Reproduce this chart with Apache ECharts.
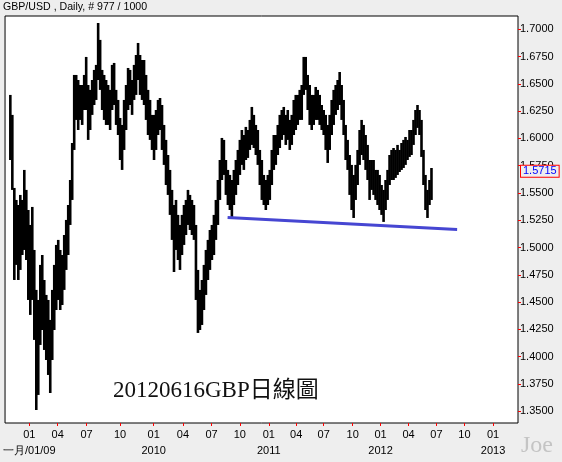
<!DOCTYPE html>
<html><head><meta charset="utf-8">
<script src="https://cdn.jsdelivr.net/npm/echarts@6/dist/echarts.min.js"></script>
<style>html,body{margin:0;padding:0;background:#eeeeee;}#c{width:562px;height:462px;}</style>
</head><body><div id="c"></div>
<script>
// One sample bar per slot (slot = about 4.5 daily bars of the reference), from Nov 2008 to mid-June 2012
const firstBar = 2;
const highs = [
1.6398,1.6215,1.5546,1.5436,1.5390,1.5482,1.5436,1.5711,1.5528,1.5344,
1.5207,1.5372,1.4978,1.4612,1.4520,1.4841,1.4932,1.4703,1.4566,1.4520,
1.4337,1.4612,1.4841,1.5024,1.5070,1.4978,1.4932,1.5115,1.5253,1.5390,
1.5619,1.5958,1.6581,1.6581,1.6535,1.6489,1.6489,1.6581,1.6746,1.6489,
1.6444,1.6535,1.6627,1.6673,1.7057,1.6902,1.6627,1.6581,1.6535,1.6489,
1.6444,1.6673,1.6691,1.6444,1.6352,1.6187,1.6123,1.6352,1.6489,1.6645,
1.6627,1.6535,1.6673,1.6764,1.6874,1.6764,1.6718,1.6718,1.6581,1.6444,
1.6352,1.6215,1.6215,1.6260,1.6352,1.6370,1.6306,1.6123,1.5986,1.5848,
1.5711,1.5528,1.5390,1.5436,1.5299,1.5207,1.5299,1.5390,1.5436,1.5528,
1.5482,1.5436,1.5390,1.5207,1.4795,1.4612,1.4703,1.4841,1.4978,1.5070,
1.5161,1.5207,1.5299,1.5436,1.5619,1.5802,1.6004,1.5986,1.5802,1.5711,
1.5665,1.5619,1.5711,1.5802,1.5894,1.5986,1.6077,1.6031,1.6105,1.6077,
1.6169,1.6288,1.6215,1.6123,1.6077,1.5894,1.5802,1.5665,1.5619,1.5665,
1.5711,1.5894,1.6031,1.6031,1.6123,1.6215,1.6260,1.6288,1.6215,1.6260,
1.6169,1.6215,1.6352,1.6398,1.6398,1.6444,1.6489,1.6746,1.6746,1.6581,
1.6489,1.6398,1.6398,1.6471,1.6444,1.6398,1.6306,1.6260,1.6215,1.6123,
1.6215,1.6352,1.6444,1.6489,1.6535,1.6608,1.6489,1.6352,1.6123,1.5986,
1.5848,1.5757,1.5665,1.5757,1.5894,1.6077,1.6169,1.6123,1.6031,1.5940,
1.5802,1.5802,1.5802,1.5711,1.5711,1.5665,1.5573,1.5528,1.5619,1.5711,
1.5848,1.5894,1.5912,1.5894,1.5940,1.5894,1.5958,1.5986,1.6013,1.5986,
1.6077,1.6077,1.6169,1.6260,1.6306,1.6260,1.6169,1.5894,1.5665,1.5528,
1.5619,1.5729];
const lows = [
1.5802,1.5528,1.4703,1.4841,1.4703,1.4795,1.4932,1.4978,1.4886,1.4520,
1.4383,1.4520,1.4154,1.3512,1.3650,1.4108,1.4245,1.4062,1.3970,1.3833,
1.3668,1.3970,1.4245,1.4428,1.4520,1.4428,1.4474,1.4612,1.4795,1.4932,
1.5207,1.5436,1.5894,1.6169,1.6077,1.6169,1.6123,1.6260,1.6260,1.5986,
1.6077,1.6215,1.6306,1.6352,1.6535,1.6444,1.6260,1.6169,1.6123,1.6123,
1.6077,1.6260,1.6306,1.6123,1.6031,1.5802,1.5711,1.5894,1.6077,1.6260,
1.6306,1.6215,1.6352,1.6398,1.6535,1.6398,1.6352,1.6306,1.6169,1.6031,
1.5986,1.5894,1.5802,1.5894,1.6031,1.6077,1.5894,1.5757,1.5573,1.5482,
1.5299,1.5070,1.4776,1.4978,1.4886,1.4795,1.4932,1.5024,1.5115,1.5207,
1.5161,1.5115,1.5070,1.4520,1.4218,1.4245,1.4291,1.4428,1.4566,1.4703,
1.4795,1.4886,1.4932,1.5070,1.5207,1.5436,1.5619,1.5665,1.5482,1.5390,
1.5344,1.5280,1.5390,1.5482,1.5573,1.5665,1.5757,1.5711,1.5802,1.5821,
1.5894,1.5940,1.5912,1.5848,1.5757,1.5573,1.5436,1.5390,1.5344,1.5390,
1.5436,1.5573,1.5711,1.5757,1.5848,1.5912,1.5986,1.6031,1.5940,1.5986,
1.5894,1.5940,1.6031,1.6077,1.6123,1.6169,1.6169,1.6398,1.6444,1.6260,
1.6123,1.6077,1.6123,1.6169,1.6169,1.6123,1.6077,1.6031,1.5894,1.5775,
1.5894,1.6031,1.6123,1.6215,1.6260,1.6306,1.6169,1.6031,1.5802,1.5711,
1.5482,1.5344,1.5271,1.5436,1.5573,1.5757,1.5848,1.5802,1.5711,1.5619,
1.5436,1.5528,1.5482,1.5436,1.5390,1.5344,1.5299,1.5235,1.5344,1.5436,
1.5573,1.5619,1.5619,1.5638,1.5665,1.5692,1.5711,1.5729,1.5757,1.5802,
1.5830,1.5848,1.5940,1.6031,1.6096,1.6031,1.5830,1.5573,1.5344,1.5271,
1.5390,1.5436];
const lastClose = 1.5715;
const trendLine = [[111, 1.5275], [226, 1.5165]];
const yTicks = [1.35,1.375,1.4,1.425,1.45,1.475,1.5,1.525,1.55,1.575,1.6,1.625,1.65,1.675,1.7];
const xTickSlots = [11.65,25.85,40.35,57.15,74,88.65,103,117.15,131.65,145.35,159.15,173.65,187.65,201.65,215.65,229.65,244];
const xTickLabels = ['01','04','07','10','01','04','07','10','01','04','07','10','01','04','07','10','01'];
const yearSlots = [11.65, 74, 131.65, 187.65, 244];
const yearLabels = ['一月/01/09', '2010', '2011', '2012', '2013'];

const chart = echarts.init(document.getElementById('c'), null, {renderer:'canvas'});
const sansFont = 'Liberation Sans, Arial, sans-serif';
const barData = highs.map((h, k) => [firstBar + k, h, lows[k]]);
function pick(slots, labels, v) {
  let best = 0, d = 1e9;
  slots.forEach((s, i) => { if (Math.abs(s - v) < d) { d = Math.abs(s - v); best = i; } });
  return labels[best];
}

chart.setOption({
  backgroundColor: '#eeeeee',
  animation: false,
  grid: {left: 4, top: 16, right: 44, bottom: 39, show: true, backgroundColor: '#ffffff', borderColor: '#000000', borderWidth: 1},
  xAxis: [{
    type: 'value', min: -0.5, max: 256.5, position: 'bottom',
    splitLine: {show: false}, axisLine: {show: false, onZero: false},
    axisTick: {show: true, inside: false, length: 3, lineStyle: {color: '#ff0000'}, customValues: xTickSlots},
    axisLabel: {show: true, customValues: xTickSlots, showMinLabel: true, showMaxLabel: true, hideOverlap: false,
      margin: 6, fontSize: 11, color: '#000', fontFamily: sansFont,
      formatter: v => pick(xTickSlots, xTickLabels, v)}
  }, {
    type: 'value', min: -0.5, max: 256.5, position: 'bottom', offset: 16,
    splitLine: {show: false}, axisLine: {show: false, onZero: false}, axisTick: {show: false},
    axisLabel: {show: true, customValues: yearSlots, showMinLabel: true, showMaxLabel: true, hideOverlap: false,
      margin: 6, fontSize: 11, color: '#000', fontFamily: sansFont,
      formatter: v => pick(yearSlots, yearLabels, v)}
  }],
  yAxis: {
    type: 'value', position: 'right', min: 1.3393, max: 1.7121, scale: true,
    splitLine: {show: false}, axisLine: {show: false, onZero: false},
    axisTick: {show: true, inside: false, length: 3, lineStyle: {color: '#ff0000'}, customValues: yTicks},
    axisLabel: {show: true, customValues: yTicks, showMinLabel: true, showMaxLabel: true, margin: 2, fontSize: 11, color: '#000', fontFamily: sansFont,
      formatter: v => v.toFixed(4)}
  },
  graphic: [
    {type: 'text', left: 3, top: 2, style: {text: 'GBP/USD , Daily, # 977 / 1000', font: '10.6px ' + sansFont, fill: '#000'}},
    {type: 'text', left: 113, top: 379, style: {text: '20120616GBP日線圖', font: '23px "Liberation Serif", "Noto Sans CJK TC", serif', fill: '#111'}},
    {type: 'text', left: 521, top: 434, style: {text: 'Joe', font: '24px "Liberation Serif", serif', fill: '#c4c4c4'}}
  ],
  series: [
    {
      type: 'custom', clip: true, xAxisIndex: 0,
      encode: {x: 0, y: [1, 2]},
      data: barData,
      renderItem: function (params, api) {
        const x = api.value(0);
        const top = api.coord([x, api.value(1)]);
        const bot = api.coord([x, api.value(2)]);
        const w = api.size([1, 0])[0];
        return {type: 'rect', shape: {x: top[0] - w / 2, y: top[1], width: w + 0.6, height: Math.max(1, bot[1] - top[1])}, style: {fill: '#000'}};
      }
    },
    {
      type: 'line', data: trendLine, symbol: 'none', clip: false, xAxisIndex: 0,
      lineStyle: {color: '#4646d2', width: 3},
      markLine: {
        silent: true, symbol: 'none',
        lineStyle: {color: 'rgba(0,0,0,0)', width: 0},
        label: {show: true, position: 'end', distance: 3, formatter: () => lastClose.toFixed(4),
          color: '#0000ff', fontSize: 11, fontFamily: sansFont, borderColor: '#ff0000', borderWidth: 1,
          padding: [0, 2, 0, 2], backgroundColor: '#eeeeee'},
        data: [{yAxis: lastClose}]
      }
    }
  ]
});
</script></body></html>
